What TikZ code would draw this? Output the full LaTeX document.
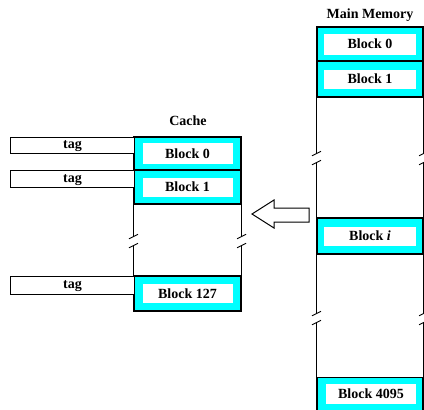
\documentclass[tikz,border=0pt]{standalone}
\usepackage{fontspec}
\setmainfont{Liberation Serif}
\definecolor{aqua}{RGB}{0,255,255}
\begin{document}
\begin{tikzpicture}[x=1pt,y=-1pt,line width=1.1pt,
  font=\fontsize{14}{16}\selectfont\bfseries,
  cell/.style={draw, fill=aqua, inner sep=0pt},
  lab/.style={fill=white, inner sep=0pt},
  tagbox/.style={draw, fill=white, inner sep=0pt, minimum width=124pt, anchor=north west},
  title/.style={inner sep=0pt},
  slash/.style={line width=0.9pt}]
\useasboundingbox (0,0) rectangle (424,410);
% titles
\node[title] (mmt) at (370,15) {Main Memory};
\node[title] (ct) at (188,121) {Cache};
% cache cells
\node[cell, minimum width=107pt, minimum height=33pt] (c0) at (187.5,153.5) {};
\node[lab, minimum width=90pt, minimum height=21pt] (c0l) at (c0) {Block 0};
\node[cell, minimum width=107pt, minimum height=34pt] (c1) at (187.5,187) {};
\node[lab, minimum width=90pt, minimum height=19pt] (c1l) at (c1) {Block 1};
\node[cell, minimum width=107pt, minimum height=35pt] (c127) at (187.5,293.5) {};
\node[lab, minimum width=90pt, minimum height=19pt] (c127l) at (c127) {Block 127};
% tags
\node[tagbox, minimum height=16pt] (t0) at (10,137) {};
\node[inner sep=0pt] at ([yshift=-1pt]t0.center) {tag};
\node[tagbox, minimum height=17pt] (t1) at (10,170) {};
\node[inner sep=0pt] at ([yshift=-1pt]t1.center) {tag};
\node[tagbox, minimum height=18pt] (t127) at (10,276) {};
\node[inner sep=0pt] at ([yshift=-1pt]t127.center) {tag};
% main memory cells
\node[cell, minimum width=106pt, minimum height=34pt] (m0) at (370,44) {};
\node[lab, minimum width=92pt, minimum height=21pt] (m0l) at (m0) {Block 0};
\node[cell, minimum width=106pt, minimum height=36pt] (m1) at (370,79) {};
\node[lab, minimum width=92pt, minimum height=19pt] (m1l) at (m1) {Block 1};
\node[cell, minimum width=106pt, minimum height=36pt] (mi) at (370,236) {};
\node[lab, minimum width=92pt, minimum height=19pt] (mil) at (mi) {Block \textit{i}};
\node[cell, minimum width=106pt, minimum height=33pt] (m4095) at (370,394) {};
\node[lab, minimum width=90pt, minimum height=20pt] (m4095l) at ([xshift=1pt]m4095) {Block 4095};
% cache side lines with breaks
\foreach \s in {west,east}{
  \draw (c1.south \s) -- ([yshift=-32pt]c1.south \s);
  \draw ([yshift=-41pt]c1.south \s) -- (c127.north \s);
  \draw[slash] ([xshift=-4.5pt,yshift=-34.25pt]c1.south \s) -- ([xshift=4.5pt,yshift=-29.75pt]c1.south \s);
  \draw[slash] ([xshift=-4.5pt,yshift=-43.25pt]c1.south \s) -- ([xshift=4.5pt,yshift=-38.75pt]c1.south \s);
}
% main memory side lines with breaks
\foreach \s in {west,east}{
  \draw (m1.south \s) -- ([yshift=-56pt]m1.south \s);
  \draw ([yshift=-65pt]m1.south \s) -- (mi.north \s);
  \draw[slash] ([xshift=-4.5pt,yshift=-58.25pt]m1.south \s) -- ([xshift=4.5pt,yshift=-53.75pt]m1.south \s);
  \draw[slash] ([xshift=-4.5pt,yshift=-67.25pt]m1.south \s) -- ([xshift=4.5pt,yshift=-62.75pt]m1.south \s);
  \draw (mi.south \s) -- ([yshift=-59pt]mi.south \s);
  \draw ([yshift=-68pt]mi.south \s) -- (m4095.north \s);
  \draw[slash] ([xshift=-4.5pt,yshift=-61.25pt]mi.south \s) -- ([xshift=4.5pt,yshift=-56.75pt]mi.south \s);
  \draw[slash] ([xshift=-4.5pt,yshift=-70.25pt]mi.south \s) -- ([xshift=4.5pt,yshift=-65.75pt]mi.south \s);
}
% hollow arrow
\draw[line width=1pt, fill=white] (252,214) -- (274,200) -- (274,208) -- (309,208) -- (309,222) -- (274,222) -- (274,228) -- cycle;
\end{tikzpicture}
\end{document}
